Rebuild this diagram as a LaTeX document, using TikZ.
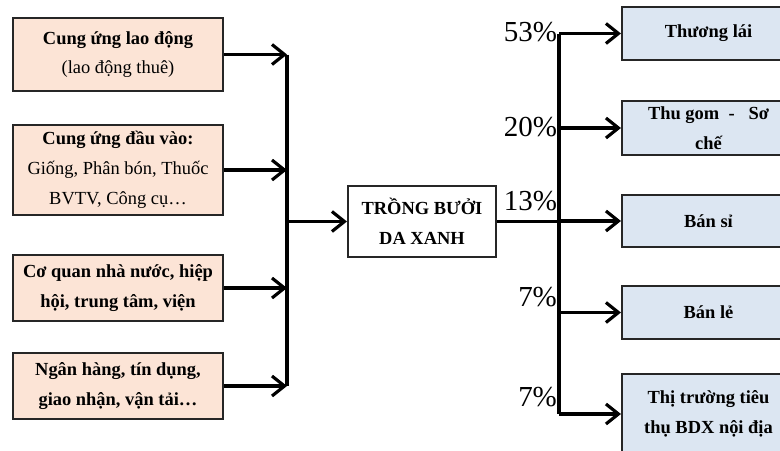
\documentclass[tikz,border=0pt]{standalone}
\usepackage{fontspec}
\setmainfont{Liberation Serif}
\usetikzlibrary{arrows.meta, positioning}
\definecolor{peach}{RGB}{252,228,214}
\definecolor{paleblue}{RGB}{220,230,242}

\begin{document}
\begin{tikzpicture}[
    >={Straight Barb[length=2.5mm, width=4mm, line width=1.8pt]},
    font=\fontsize{10.5}{17}\selectfont,
    inbox/.style={rectangle, draw=black!85, line width=1.2pt, fill=peach, minimum width=4.2cm, align=center},
    outbox/.style={rectangle, draw=black!85, line width=1.2pt, fill=paleblue, minimum width=3.46cm, align=center, font=\fontsize{10.5}{17}\selectfont\bfseries},
    mainbox/.style={rectangle, draw=black!85, line width=1.2pt, fill=white, minimum width=2.96cm, minimum height=1.42cm, align=center, font=\fontsize{10.5}{17}\selectfont\bfseries},
    pct/.style={anchor=east, inner sep=1pt, font=\fontsize{16.5}{16.5}\selectfont},
    arrow/.style={->, line width=1.8pt},
    bus/.style={line width=1.8pt}
]
\useasboundingbox (0,0) rectangle (15.6,-9);
\clip (0,0) rectangle (15.6,-9);

\node[inbox, minimum height=1.46cm] (laodong) at (2.36,-1.09) {\textbf{Cung ứng lao động}\\(lao động thuê)};
\node[inbox, minimum height=1.8cm] (dauvao) at (2.36,-3.4) {\textbf{Cung ứng đầu vào:}\\Giống, Phân bón, Thuốc\\BVTV, Công cụ…};
\node[inbox, minimum height=1.32cm, font=\fontsize{10.5}{17}\selectfont\bfseries] (coquan) at (2.36,-5.76) {Cơ quan nhà nước, hiệp\\hội, trung tâm, viện};
\node[inbox, minimum height=1.32cm, font=\fontsize{10.5}{17}\selectfont\bfseries] (nganhang) at (2.36,-7.72) {Ngân hàng, tín dụng,\\giao nhận, vận tải…};

\node[mainbox] (trongbuoi) at (8.44,-4.43) {TRỒNG BƯỞI\\DA XANH};

\node[outbox, minimum height=1.06cm] (thuonglai) at (14.17,-0.67) {Thương lái};
\node[outbox, minimum height=1.08cm] (thugom) at (14.17,-2.56) {Thu gom \ - \ \ Sơ\\chế};
\node[outbox, minimum height=1.04cm] (bansi) at (14.17,-4.42) {Bán sỉ};
\node[outbox, minimum height=1.06cm] (banle) at (14.17,-6.25) {Bán lẻ};
\node[outbox, minimum height=1.6cm] (noidia) at (14.17,-8.28) {Thị trường tiêu\\thụ BDX nội địa};

\coordinate (lbus) at (5.74,0);
\coordinate (rbus) at (11.18,0);

% inputs
\draw[arrow] (laodong.east) -- (laodong.east -| lbus);
\draw[arrow] (dauvao.east) -- (dauvao.east -| lbus);
\draw[arrow] (coquan.east) -- (coquan.east -| lbus);
\draw[arrow] (nganhang.east) -- (nganhang.east -| lbus);
\draw[bus] (laodong.east -| lbus) -- (nganhang.east -| lbus);
\draw[arrow] (lbus |- trongbuoi.west) -- (trongbuoi.west);

% outputs
\draw[bus] (trongbuoi.east) -- (trongbuoi.east -| rbus);
\draw[bus] (rbus |- thuonglai.west) -- (rbus |- noidia.west);
\draw[arrow] (rbus |- thuonglai.west) -- (thuonglai.west);
\draw[arrow] (rbus |- thugom.west) -- (thugom.west);
\draw[arrow] (rbus |- bansi.west) -- (bansi.west);
\draw[arrow] (rbus |- banle.west) -- (banle.west);
\draw[arrow] (rbus |- noidia.west) -- (noidia.west);

\node[pct] (p53) at ([yshift=0.02cm]rbus |- thuonglai.west) {53\%};
\node[pct] (p20) at ([yshift=0.02cm]rbus |- thugom.west) {20\%};
\node[pct] (p13) at ([yshift=0.4cm]rbus |- bansi.west) {13\%};
\node[pct] (p7a) at ([yshift=0.3cm]rbus |- banle.west) {7\%};
\node[pct] (p7b) at ([yshift=0.33cm]rbus |- noidia.west) {7\%};
\end{tikzpicture}
\end{document}
